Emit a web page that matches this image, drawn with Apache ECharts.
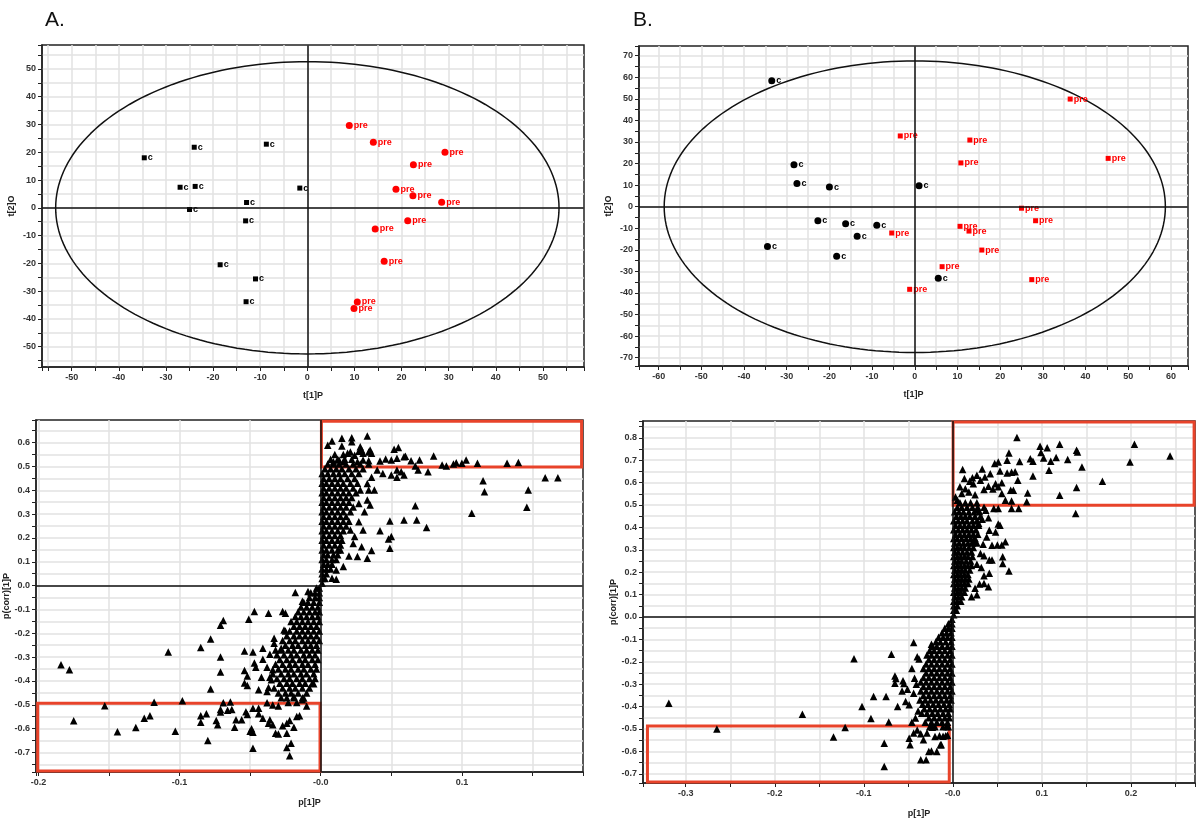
<!DOCTYPE html>
<html>
<head>
<meta charset="utf-8">
<script src="https://cdn.jsdelivr.net/npm/echarts@6/dist/echarts.min.js"></script>
<style>html,body{margin:0;background:#fff}#chart{width:1200px;height:819px}</style>
</head>
<body>
<div id="chart"></div>
<script>
// --- score plots: [t[1]P, t[2]O] ---
const aScoreC = [[-34.6,18.0],[-24.0,21.8],[-8.7,22.9],[-27.0,7.4],[-23.8,7.7],[-1.6,7.1],[-12.9,1.9],[-25.0,-0.6],[-13.1,-4.7],[-18.5,-20.5],[-11.0,-25.6],[-13.0,-33.8]];
const aScorePre = [[8.9,29.6],[14.0,23.6],[29.2,20.0],[22.5,15.5],[18.8,6.7],[22.4,4.3],[28.5,2.0],[21.3,-4.7],[14.4,-7.6],[16.3,-19.2],[10.6,-33.9],[9.9,-36.2]];
const bScoreC = [[-33.5,58.4],[-28.3,19.5],[-27.6,10.7],[-20.0,9.1],[1.0,9.7],[-22.7,-6.5],[-16.2,-7.9],[-8.9,-8.6],[-13.5,-13.7],[-34.5,-18.4],[-18.3,-23.0],[5.5,-33.2]];
const bScorePre = [[-3.4,32.8],[36.4,49.9],[12.9,30.9],[10.8,20.3],[45.3,22.4],[25.0,-0.7],[-5.4,-12.2],[-1.2,-38.3],[28.3,-6.5],[10.6,-9.1],[12.7,-11.3],[15.7,-20.1],[6.4,-27.8],[27.4,-33.8]];

// Hotelling T2 ellipse semi-axes
const aEllipse = [53.4, 52.6];
const bEllipse = [58.7, 67.6];

// --- S-plots: [p[1]P, p(corr)[1]P] ---
// dense core, read row by row: [y, [x...]]
const aCoreRows = [
  [-0.01,[-0.001,-0.003]],[-0.03,[-0.001,-0.004,-0.007]],[-0.05,[-0.001,-0.004,-0.008]],
  [-0.07,[-0.001,-0.005,-0.009,-0.012]],[-0.09,[-0.002,-0.006,-0.010,-0.014]],
  [-0.11,[-0.001,-0.004,-0.008,-0.012,-0.016]],[-0.13,[-0.002,-0.006,-0.010,-0.014,-0.018]],
  [-0.15,[-0.001,-0.005,-0.009,-0.013,-0.017,-0.021]],[-0.17,[-0.003,-0.007,-0.011,-0.015,-0.019]],
  [-0.19,[-0.001,-0.005,-0.009,-0.013,-0.017,-0.022]],[-0.21,[-0.003,-0.007,-0.011,-0.015,-0.019,-0.024]],
  [-0.23,[-0.001,-0.005,-0.009,-0.013,-0.018,-0.022,-0.027]],[-0.25,[-0.003,-0.007,-0.011,-0.016,-0.020,-0.025]],
  [-0.27,[-0.002,-0.006,-0.010,-0.014,-0.019,-0.023,-0.028]],[-0.29,[-0.004,-0.008,-0.012,-0.017,-0.021,-0.026,-0.031]],
  [-0.31,[-0.002,-0.006,-0.011,-0.015,-0.020,-0.024,-0.029]],[-0.33,[-0.004,-0.009,-0.013,-0.018,-0.022,-0.027,-0.032]],
  [-0.35,[-0.003,-0.007,-0.012,-0.016,-0.021,-0.025,-0.030]],[-0.37,[-0.005,-0.010,-0.014,-0.019,-0.023,-0.028,-0.034]],
  [-0.39,[-0.004,-0.008,-0.013,-0.017,-0.022,-0.026,-0.031]],[-0.41,[-0.006,-0.011,-0.015,-0.020,-0.024,-0.029]],
  [-0.43,[-0.008,-0.013,-0.018,-0.022,-0.027,-0.033]],[-0.45,[-0.010,-0.016,-0.021,-0.025,-0.030]],
  [-0.47,[-0.013,-0.019,-0.024,-0.028]],[-0.49,[-0.017,-0.023]],
  [0.01,[0.001]],[0.03,[0.001,0.003]],[0.05,[0.001,0.004]],[0.07,[0.001,0.004,0.007]],
  [0.09,[0.002,0.005,0.008]],[0.11,[0.001,0.004,0.008,0.011]],[0.13,[0.002,0.005,0.009,0.012]],
  [0.15,[0.001,0.004,0.008,0.012]],[0.17,[0.002,0.006,0.010,0.014]],[0.19,[0.001,0.004,0.008,0.012,0.015]],
  [0.21,[0.002,0.006,0.010,0.014]],[0.23,[0.001,0.004,0.008,0.012,0.016]],[0.25,[0.002,0.006,0.010,0.014,0.018]],
  [0.27,[0.001,0.004,0.008,0.012,0.016,0.020]],[0.29,[0.002,0.006,0.010,0.014,0.018]],
  [0.31,[0.001,0.004,0.008,0.012,0.016,0.021]],[0.33,[0.002,0.006,0.010,0.014,0.018,0.023]],
  [0.35,[0.001,0.004,0.008,0.012,0.016,0.020]],[0.37,[0.002,0.006,0.010,0.014,0.018,0.022]],
  [0.39,[0.001,0.004,0.008,0.012,0.016,0.020,0.025]],[0.41,[0.002,0.006,0.010,0.014,0.018,0.023]],
  [0.43,[0.001,0.004,0.008,0.012,0.016,0.021,0.026]],[0.45,[0.002,0.006,0.010,0.014,0.019,0.024]],
  [0.47,[0.001,0.005,0.009,0.013,0.017,0.022,0.027]],[0.49,[0.003,0.007,0.011,0.015,0.020,0.025,0.030]],
  [0.51,[0.005,0.009,0.013,0.018,0.023,0.028,0.034]],[0.53,[0.007,0.012,0.017,0.022]],[0.55,[0.010,0.016]]
];
const aScatter = [
  [-0.184,-0.332],[-0.178,-0.353],[-0.175,-0.567],[-0.153,-0.504],[-0.144,-0.613],[-0.131,-0.595],[-0.125,-0.556],[-0.121,-0.546],
  [-0.118,-0.489],[-0.108,-0.279],[-0.103,-0.611],[-0.098,-0.483],[-0.085,-0.260],[-0.085,-0.546],[-0.085,-0.573],[-0.081,-0.538],
  [-0.080,-0.650],[-0.078,-0.224],[-0.078,-0.434],[-0.074,-0.566],[-0.073,-0.584],[-0.071,-0.166],[-0.069,-0.146],[-0.071,-0.299],
  [-0.071,-0.362],[-0.071,-0.530],[-0.071,-0.520],[-0.069,-0.491],[-0.066,-0.523],[-0.064,-0.488],[-0.063,-0.520],[-0.061,-0.594],
  [-0.060,-0.563],[-0.056,-0.563],[-0.054,-0.274],[-0.054,-0.356],[-0.052,-0.379],[-0.054,-0.409],[-0.052,-0.419],[-0.053,-0.529],
  [-0.052,-0.541],[-0.051,-0.141],[-0.050,-0.611],[-0.049,-0.601],[-0.048,-0.615],[-0.048,-0.682],[-0.047,-0.109],[-0.048,-0.279],
  [-0.047,-0.325],[-0.046,-0.342],[-0.048,-0.514],[-0.044,-0.538],[-0.044,-0.514],[-0.044,-0.437],[-0.041,-0.309],[-0.042,-0.384],
  [-0.041,-0.263],[-0.041,-0.556],[-0.038,-0.342],[-0.038,-0.444],[-0.038,-0.491],[-0.037,-0.116],[-0.037,-0.427],[-0.037,-0.577],
  [-0.036,-0.288],[-0.036,-0.384],[-0.036,-0.563],[-0.035,-0.395],[-0.034,-0.353],[-0.034,-0.501],[-0.034,-0.584],[-0.033,-0.221],
  [-0.033,-0.242],[-0.032,-0.270],[-0.032,-0.619],[-0.030,-0.623],[-0.030,-0.505],[-0.028,-0.263],[-0.027,-0.109],[-0.027,-0.588],
  [-0.026,-0.186],[-0.025,-0.116],[-0.025,-0.190],[-0.024,-0.577],[-0.024,-0.679],[-0.024,-0.619],[-0.022,-0.566],[-0.022,-0.714],
  [-0.021,-0.661],[-0.019,-0.594],[-0.019,-0.465],[-0.018,-0.029],[-0.017,-0.549],[-0.015,-0.546],[-0.013,-0.066],[-0.013,-0.479],
  [-0.012,-0.472],[-0.010,-0.505],[-0.009,-0.025],[-0.005,-0.412],
  [0.005,0.589],[0.008,0.607],[0.015,0.618],[0.015,0.586],[0.022,0.620],[0.022,0.604],[0.033,0.628],[0.019,0.555],[0.021,0.561],
  [0.024,0.547],[0.027,0.564],[0.029,0.569],[0.030,0.555],[0.034,0.561],[0.036,0.555],[0.028,0.583],[0.035,0.569],[0.009,0.520],
  [0.013,0.527],[0.016,0.520],[0.026,0.520],[0.030,0.527],[0.034,0.524],[0.042,0.523],[0.046,0.531],[0.050,0.527],[0.052,0.572],
  [0.055,0.580],[0.054,0.534],[0.059,0.541],[0.060,0.543],[0.064,0.524],[0.070,0.527],[0.080,0.544],[0.086,0.506],[0.089,0.502],
  [0.094,0.510],[0.096,0.516],[0.100,0.513],[0.103,0.527],[0.111,0.513],[0.132,0.513],[0.140,0.517],
  [0.115,0.440],[0.116,0.394],[0.107,0.304],[0.147,0.401],[0.146,0.329],[0.159,0.453],[0.168,0.453],[0.067,0.335],[0.068,0.275],
  [0.075,0.244],[0.059,0.275],[0.049,0.271],[0.048,0.196],[0.050,0.206],[0.049,0.157],[0.042,0.230],[0.033,0.115],[0.026,0.122],
  [0.020,0.124],[0.036,0.147],[0.011,0.027],[0.008,0.031],[0.011,0.066],[0.050,0.464],[0.054,0.455],[0.057,0.478],[0.059,0.464],
  [0.054,0.485],[0.069,0.485],[0.076,0.478],[0.067,0.502],[0.040,0.485],[0.044,0.471],[0.036,0.455],[0.033,0.429],[0.034,0.401],
  [0.033,0.359],[0.035,0.338],[0.031,0.310],[0.027,0.268],[0.030,0.233],[0.024,0.206],[0.029,0.163],[0.023,0.177],[0.016,0.080],
  [0.014,0.149],[0.021,0.233],[0.038,0.401],[0.028,0.401],[0.027,0.345]
];
const bCoreRows = [
  [-0.01,[-0.001]],[-0.03,[-0.001,-0.005]],[-0.05,[-0.001,-0.005,-0.009]],[-0.07,[-0.002,-0.007,-0.012]],
  [-0.09,[-0.001,-0.006,-0.011,-0.016]],[-0.11,[-0.002,-0.008,-0.014,-0.019]],[-0.13,[-0.001,-0.006,-0.012,-0.018,-0.023]],
  [-0.15,[-0.003,-0.009,-0.015,-0.021,-0.026]],[-0.17,[-0.001,-0.006,-0.012,-0.018,-0.024,-0.029]],
  [-0.19,[-0.003,-0.009,-0.015,-0.021,-0.027]],[-0.21,[-0.001,-0.006,-0.012,-0.018,-0.024,-0.030]],
  [-0.23,[-0.003,-0.009,-0.015,-0.021,-0.027,-0.033]],[-0.25,[-0.001,-0.006,-0.012,-0.018,-0.024,-0.030]],
  [-0.27,[-0.003,-0.009,-0.015,-0.021,-0.027,-0.033]],[-0.29,[-0.001,-0.006,-0.012,-0.018,-0.024,-0.030,-0.036]],
  [-0.31,[-0.003,-0.009,-0.015,-0.021,-0.027,-0.033]],[-0.33,[-0.001,-0.006,-0.012,-0.018,-0.024,-0.030,-0.036]],
  [-0.35,[-0.003,-0.009,-0.015,-0.021,-0.027,-0.033]],[-0.37,[-0.002,-0.007,-0.013,-0.019,-0.025,-0.031,-0.037]],
  [-0.39,[-0.004,-0.010,-0.016,-0.022,-0.028,-0.034]],[-0.41,[-0.003,-0.008,-0.014,-0.020,-0.026,-0.032]],
  [-0.43,[-0.005,-0.011,-0.017,-0.023,-0.029,-0.035]],[-0.45,[-0.004,-0.009,-0.015,-0.021,-0.027]],
  [-0.47,[-0.006,-0.012,-0.018,-0.024,-0.031]],[-0.49,[-0.005,-0.011,-0.020,-0.026]],
  [0.01,[0.001]],[0.03,[0.001,0.004]],[0.05,[0.001,0.005]],[0.07,[0.001,0.005,0.009]],[0.09,[0.002,0.006,0.010]],
  [0.11,[0.001,0.005,0.009,0.013]],[0.13,[0.002,0.006,0.010,0.014]],[0.15,[0.001,0.005,0.009,0.013,0.017]],
  [0.17,[0.002,0.006,0.010,0.014,0.018]],[0.19,[0.001,0.005,0.009,0.013,0.017]],[0.21,[0.002,0.006,0.010,0.014,0.019]],
  [0.23,[0.001,0.005,0.009,0.013,0.017,0.021]],[0.25,[0.002,0.006,0.010,0.015,0.020]],[0.27,[0.001,0.005,0.009,0.013,0.017,0.022]],
  [0.29,[0.002,0.006,0.011,0.016,0.021]],[0.31,[0.001,0.005,0.009,0.013,0.018,0.023]],[0.33,[0.002,0.007,0.012,0.017,0.022,0.027]],
  [0.35,[0.001,0.005,0.010,0.015,0.020,0.025]],[0.37,[0.003,0.008,0.013,0.018,0.023,0.028]],
  [0.39,[0.001,0.006,0.011,0.016,0.021,0.026]],[0.41,[0.003,0.008,0.013,0.018,0.023,0.029]],
  [0.43,[0.001,0.006,0.011,0.016,0.022,0.027]],[0.45,[0.004,0.009,0.014,0.019,0.025,0.031]],
  [0.47,[0.002,0.007,0.012,0.018,0.024,0.030]],[0.49,[0.005,0.010,0.016,0.022,0.028,0.035]],[0.51,[0.008,0.014,0.020,0.027]]
];
const bScatter = [
  [-0.319,-0.385],[-0.265,-0.500],[-0.169,-0.434],[-0.134,-0.536],[-0.121,-0.493],[-0.111,-0.186],[-0.102,-0.400],[-0.092,-0.453],
  [-0.089,-0.355],[-0.077,-0.563],[-0.077,-0.667],[-0.075,-0.355],[-0.072,-0.469],[-0.069,-0.166],[-0.065,-0.263],[-0.064,-0.275],
  [-0.065,-0.296],[-0.062,-0.400],[-0.056,-0.285],[-0.055,-0.297],[-0.057,-0.330],[-0.053,-0.377],[-0.051,-0.322],[-0.049,-0.392],
  [-0.049,-0.541],[-0.048,-0.570],[-0.044,-0.114],[-0.043,-0.273],[-0.044,-0.518],[-0.042,-0.451],[-0.040,-0.177],[-0.038,-0.188],
  [-0.040,-0.504],[-0.036,-0.637],[-0.030,-0.637],[-0.027,-0.600],[-0.024,-0.598],[-0.018,-0.600],[-0.024,-0.122],[-0.014,-0.570],
  [-0.015,-0.530],[-0.011,-0.532],[-0.008,-0.530],[-0.006,-0.528],[-0.036,-0.521],[-0.033,-0.548],[-0.029,-0.518],[-0.023,-0.492],
  [-0.020,-0.533],[-0.013,-0.570],[-0.007,-0.489],[-0.041,-0.300],[-0.044,-0.340],[-0.046,-0.230],[-0.039,-0.420],[-0.046,-0.470],
  [0.072,0.801],[0.098,0.762],[0.106,0.756],[0.120,0.771],[0.139,0.744],[0.140,0.737],[0.204,0.771],[0.244,0.719],[0.199,0.692],
  [0.145,0.670],[0.168,0.606],[0.139,0.578],[0.120,0.544],[0.138,0.462],[0.099,0.734],[0.102,0.710],[0.110,0.695],[0.116,0.712],
  [0.129,0.703],[0.108,0.655],[0.087,0.707],[0.090,0.695],[0.090,0.630],[0.084,0.554],[0.083,0.514],[0.075,0.694],[0.063,0.732],
  [0.061,0.700],[0.051,0.692],[0.047,0.685],[0.033,0.661],[0.011,0.658],[0.027,0.633],[0.036,0.625],[0.042,0.640],[0.053,0.652],
  [0.061,0.643],[0.066,0.646],[0.070,0.648],[0.073,0.611],[0.068,0.566],[0.065,0.566],[0.055,0.551],[0.059,0.521],[0.066,0.518],
  [0.074,0.484],[0.066,0.484],[0.051,0.484],[0.046,0.484],[0.037,0.477],[0.027,0.480],[0.013,0.618],[0.019,0.606],[0.023,0.595],
  [0.014,0.573],[0.010,0.551],[0.018,0.558],[0.025,0.546],[0.035,0.569],[0.040,0.584],[0.045,0.572],[0.051,0.581],[0.055,0.599],
  [0.022,0.622],[0.031,0.610],[0.048,0.595],[0.005,0.521],[0.008,0.581],[0.003,0.536],
  [0.063,0.205],[0.056,0.239],[0.056,0.269],[0.059,0.336],[0.055,0.321],[0.050,0.321],[0.048,0.380],[0.053,0.410],[0.051,0.415],
  [0.044,0.254],[0.041,0.254],[0.041,0.195],[0.040,0.135],[0.035,0.150],[0.030,0.147],[0.027,0.099],[0.021,0.090],[0.025,0.128],
  [0.035,0.184],[0.032,0.221],[0.035,0.273],[0.031,0.284],[0.034,0.325],[0.038,0.357],[0.041,0.387],[0.040,0.443],[0.033,0.436],
  [0.029,0.418],[0.044,0.320],[0.027,0.236],[0.023,0.343]
];

// red selection boxes [[x1,y1],[x2,y2]]
const aBoxes = [[[0.0005,0.498],[0.1848,0.690]],[[-0.2005,-0.778],[-0.0005,-0.493]]];
const bBoxes = [[[0.0003,0.499],[0.271,0.871]],[[-0.343,-0.737],[-0.004,-0.486]]];

function expandRows(rows) {
  const out = [];
  rows.forEach(([y, xs]) => xs.forEach(x => out.push([x, y])));
  return out;
}
function ellipse(r) {
  const pts = [];
  for (let i = 0; i <= 200; i++) {
    const t = (i / 200) * 2 * Math.PI;
    pts.push([r[0] * Math.cos(t), r[1] * Math.sin(t)]);
  }
  return pts;
}

const font = "'Liberation Sans', Arial, sans-serif";
const tickFont = { fontFamily: font, fontSize: 9, fontWeight: "bold", color: "#333" };

function axis(grid, range, step, labelStep, digits, name, nameGap, zeroText) {
  return {
    type: "value",
    gridIndex: grid,
    min: range[0],
    max: range[1],
    minInterval: step,
    maxInterval: step,
    name: name,
    nameLocation: "middle",
    nameGap: nameGap,
    nameTextStyle: { fontFamily: font, fontSize: 9, fontWeight: "bold", color: "#222" },
    axisLine: { show: true, onZero: false, lineStyle: { color: "#222", width: 1.5 } },
    axisTick: { show: true, interval: 0, length: 4, lineStyle: { color: "#222", width: 1 } },
    axisLabel: {
      interval: 0,
      margin: 6,
      ...tickFont,
      formatter: v => {
        const k = v / labelStep;
        if (Math.abs(k - Math.round(k)) > 1e-6) return "";
        if (Math.abs(v) < 1e-9) return zeroText;
        return v.toFixed(digits);
      },
    },
    splitLine: { show: true, interval: 0, showMinLine: false, showMaxLine: false, lineStyle: { color: "#e2e2e2", width: 1.5 } },
  };
}

const zeroLines = {
  silent: true,
  symbol: ["none", "none"],
  label: { show: false },
  lineStyle: { color: "#111", width: 1.5, type: "solid" },
  data: [{ xAxis: 0 }, { yAxis: 0 }],
};

function pointLabel(text, color) {
  return { show: true, position: "right", distance: 1, formatter: text, color: color, fontFamily: font, fontSize: 9, fontWeight: "bold" };
}

function boxes(list) {
  return {
    silent: true,
    itemStyle: { color: "rgba(0,0,0,0)", borderColor: "#e8432a", borderWidth: 3 },
    data: list.map(b => [{ coord: b[0] }, { coord: b[1] }]),
  };
}

const chart = echarts.init(document.getElementById("chart"));
chart.setOption({
  animation: false,
  backgroundColor: "#fff",
  title: [
    { text: "A.", left: 40, top: 5, textStyle: { fontFamily: font, fontSize: 21, fontWeight: "normal", color: "#111" } },
    { text: "B.", left: 628, top: 5, textStyle: { fontFamily: font, fontSize: 21, fontWeight: "normal", color: "#111" } },
  ],
  grid: [
    { left: 42, top: 45, width: 542, height: 322, show: true, borderColor: "#222", borderWidth: 1.5 },
    { left: 639, top: 46, width: 549, height: 320, show: true, borderColor: "#222", borderWidth: 1.5 },
    { left: 36, top: 420, width: 547, height: 352, show: true, borderColor: "#222", borderWidth: 1.5 },
    { left: 643, top: 421, width: 552, height: 362, show: true, borderColor: "#222", borderWidth: 1.5 },
  ],
  xAxis: [
    axis(0, [-56.3, 58.7], 5, 10, 0, "t[1]P", 24, "0"),
    axis(1, [-64.6, 64.0], 5, 10, 0, "t[1]P", 24, "0"),
    axis(2, [-0.2017, 0.1858], 0.05, 0.1, 1, "p[1]P", 26, "-0.0"),
    axis(3, [-0.348, 0.272], 0.05, 0.1, 1, "p[1]P", 26, "-0.0"),
  ],
  yAxis: [
    axis(0, [-57.3, 58.6], 5, 10, 0, "t[2]O", 26, "0"),
    axis(1, [-73.85, 74.5], 5, 10, 0, "t[2]O", 26, "0"),
    axis(2, [-0.782, 0.695], 0.05, 0.1, 1, "p(corr)[1]P", 24, "0.0"),
    axis(3, [-0.741, 0.875], 0.05, 0.1, 1, "p(corr)[1]P", 24, "0.0"),
  ],
  series: [
    { type: "line", xAxisIndex: 0, yAxisIndex: 0, data: ellipse(aEllipse), showSymbol: false, silent: true, z: 2,
      lineStyle: { color: "#111", width: 1.5 }, markLine: zeroLines },
    { type: "scatter", xAxisIndex: 0, yAxisIndex: 0, data: aScoreC, symbol: "rect", symbolSize: 5, z: 3,
      itemStyle: { color: "#000", opacity: 1 }, label: pointLabel("c", "#000") },
    { type: "scatter", xAxisIndex: 0, yAxisIndex: 0, data: aScorePre, symbol: "circle", symbolSize: 7, z: 3,
      itemStyle: { color: "#ff0000", opacity: 1 }, label: pointLabel("pre", "#ff0000") },

    { type: "line", xAxisIndex: 1, yAxisIndex: 1, data: ellipse(bEllipse), showSymbol: false, silent: true, z: 2,
      lineStyle: { color: "#111", width: 1.5 }, markLine: zeroLines },
    { type: "scatter", xAxisIndex: 1, yAxisIndex: 1, data: bScoreC, symbol: "circle", symbolSize: 7, z: 3,
      itemStyle: { color: "#000", opacity: 1 }, label: pointLabel("c", "#000") },
    { type: "scatter", xAxisIndex: 1, yAxisIndex: 1, data: bScorePre, symbol: "rect", symbolSize: 5, z: 3,
      itemStyle: { color: "#ff0000", opacity: 1 }, label: pointLabel("pre", "#ff0000") },

    { type: "scatter", xAxisIndex: 2, yAxisIndex: 2, data: expandRows(aCoreRows).concat(aScatter), symbol: "triangle", symbolSize: 7.5,
      itemStyle: { color: "#000", opacity: 1 }, markLine: zeroLines, markArea: boxes(aBoxes) },
    { type: "scatter", xAxisIndex: 3, yAxisIndex: 3, data: expandRows(bCoreRows).concat(bScatter), symbol: "triangle", symbolSize: 7.5,
      itemStyle: { color: "#000", opacity: 1 }, markLine: zeroLines, markArea: boxes(bBoxes) },
  ],
});
</script>
</body>
</html>
